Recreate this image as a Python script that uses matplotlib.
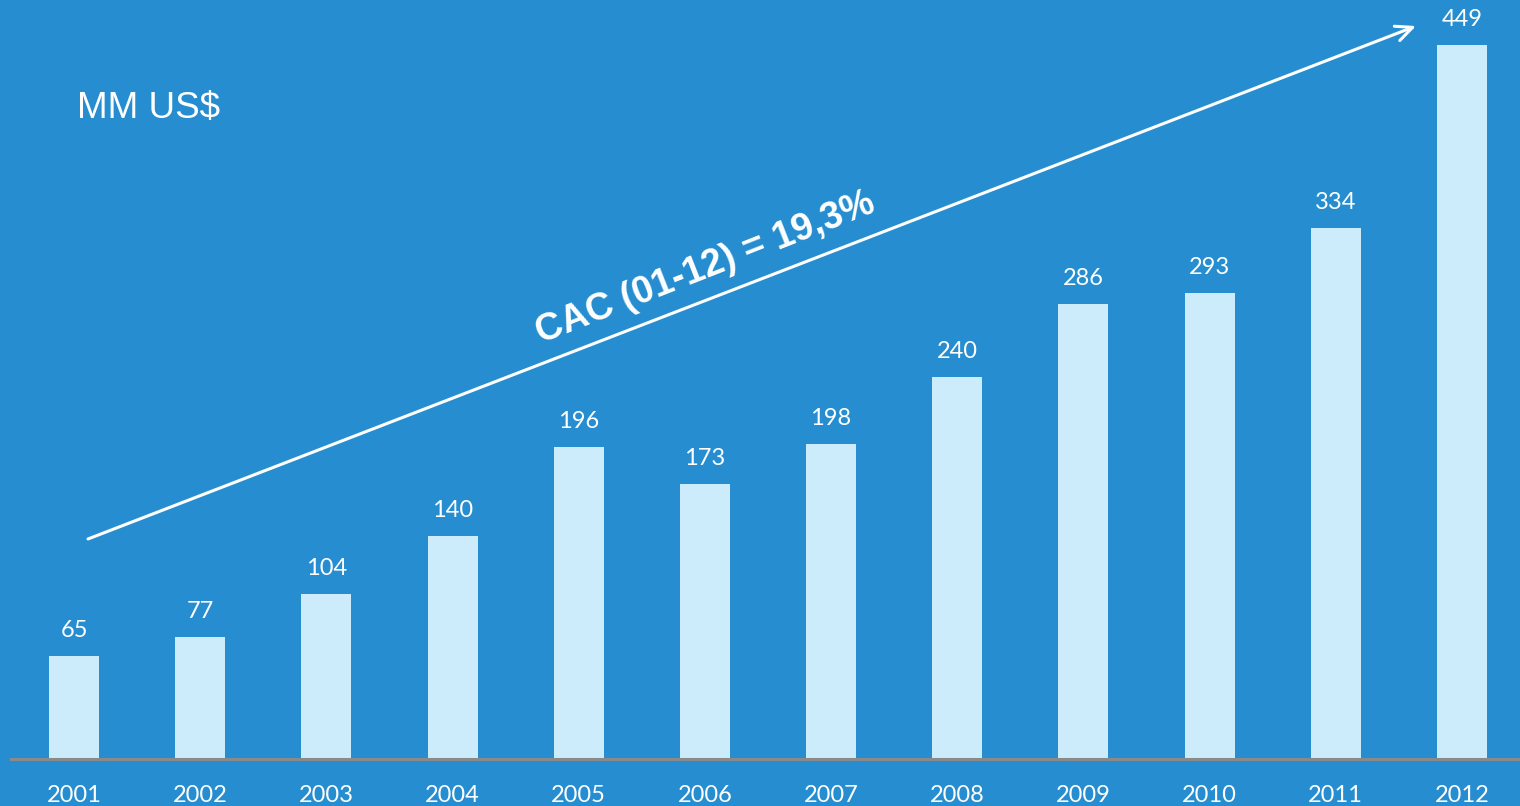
import matplotlib
matplotlib.use("Agg")
import matplotlib.pyplot as plt
import numpy as np

years = ['2001', '2002', '2003', '2004', '2005', '2006',
         '2007', '2008', '2009', '2010', '2011', '2012']
values = [65, 77, 104, 140, 196, 173, 198, 240, 286, 293, 334, 449]

unit_label = 'MM US$'
cagr_label = 'CAC (01-12) = 19,3%'

bg = '#268ED0'
bar_color = '#CCEBFB'
num_font = ['Lato', 'DejaVu Sans']

fig = plt.figure(figsize=(15.2, 8.06), dpi=100, facecolor=bg)
ax = fig.add_axes([0, 0, 1, 1])
ax.set_facecolor(bg)

x = np.arange(len(years))
ax.bar(x, values, width=0.396, color=bar_color, zorder=2)

# axis scale chosen so the baseline sits near the bottom edge
ax.set_xlim(-0.5865, 11.46)
ax.set_ylim(-29.6, 477.4)
ax.axhline(0, xmin=11/1520, xmax=1, color='#8a8a8a', lw=2.2, zorder=3)

for xi, v in zip(x, values):
    ax.text(xi, v + 16, str(v), ha='center', va='center', color='white',
            fontsize=17, family=num_font)
    ax.text(xi, -23.3, years[xi], ha='center', va='center', color='white',
            fontsize=17, family=num_font)

for s in ax.spines.values():
    s.set_visible(False)
ax.set_xticks([])
ax.set_yticks([])

ax.text(0.0507, 0.866, unit_label, transform=ax.transAxes, ha='left',
        va='center', color='white', fontsize=26.5, family='Liberation Sans')

# growth arrow
ax.annotate('', xy=(0.9316, 0.9677), xytext=(0.0579, 0.3313),
            xycoords='axes fraction', textcoords='axes fraction',
            arrowprops=dict(arrowstyle='->,head_length=1.2,head_width=0.55',
                            color='white', lw=2.2, shrinkA=0, shrinkB=0))
ax.text(0.4638, 0.668, cagr_label, transform=ax.transAxes, ha='center',
        va='center', rotation=21.5, rotation_mode='anchor', color='white',
        fontsize=27, fontweight='bold', family='Liberation Sans')

fig.savefig('out.png', dpi=100, facecolor=bg)
